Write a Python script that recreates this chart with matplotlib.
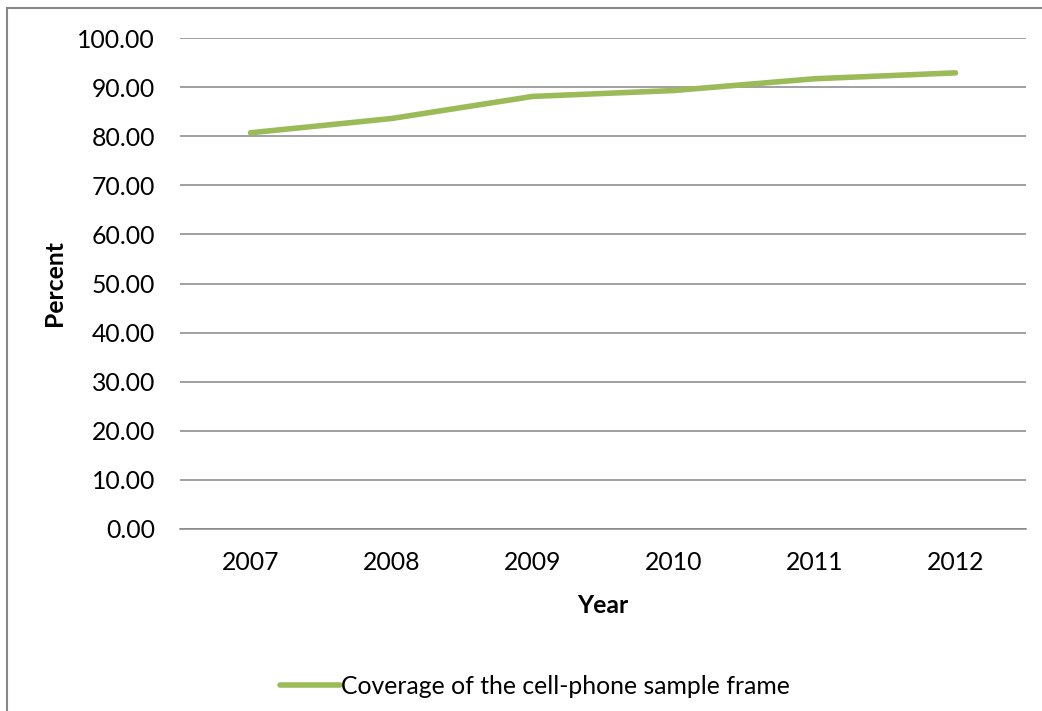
import matplotlib.pyplot as plt
from matplotlib.patches import Rectangle

# data
years = ["2007", "2008", "2009", "2010", "2011", "2012"]
coverage = [80.7, 83.6, 88.1, 89.3, 91.7, 92.9]
y_ticks = [0, 10, 20, 30, 40, 50, 60, 70, 80, 90, 100]

LINE_COLOR = "#9BBB59"
GRID_COLOR = "#868686"
FONT = ["Lato", "DejaVu Sans"]
FS = 17.8

plt.rcParams["font.family"] = FONT

fig = plt.figure(figsize=(10.42, 7.11), dpi=100)
ax = fig.add_axes([180 / 1042, 1 - 529 / 711, (1026 - 180) / 1042, (529 - 38) / 711])

x = list(range(len(years)))
line, = ax.plot(x, coverage, color=LINE_COLOR, linewidth=4,
                solid_capstyle="round", solid_joinstyle="round",
                label="Coverage of the cell-phone sample frame", zorder=3)

ax.set_xlim(-0.5, len(years) - 0.5)
ax.set_ylim(0, 100)
ax.set_yticks(y_ticks)
ax.set_yticklabels([f"{v:.2f}" for v in y_ticks])
ax.set_xticks(x)
ax.set_xticklabels(years)

ax.grid(axis="y", color=GRID_COLOR, linewidth=1.1)
ax.set_axisbelow(True)
for side in ["top", "right", "left"]:
    ax.spines[side].set_visible(False)
ax.spines["bottom"].set_color(GRID_COLOR)
ax.spines["bottom"].set_linewidth(1.1)

ax.tick_params(axis="y", length=0, pad=18, labelsize=FS, colors="black")
ax.tick_params(axis="x", length=0, pad=16, labelsize=FS, colors="black")

ax.set_xlabel("Year", fontsize=FS, fontweight="bold", labelpad=14)
ax.set_ylabel("Percent", fontsize=FS, fontweight="bold", labelpad=8)

fig.legend(handles=[line], loc="center", bbox_to_anchor=(535 / 1042, 1 - 686 / 711),
           frameon=False, fontsize=FS, handlelength=2.45, handletextpad=0.05)

# chart-area border (cut off on the right and bottom in the reference)
fig.patches.append(Rectangle((7 / 1042, -0.05), 1.1, 1 - 8 / 711 + 0.05,
                             transform=fig.transFigure, fill=False,
                             edgecolor="#878787", linewidth=1.5))

fig.savefig("out.png", dpi=100)
